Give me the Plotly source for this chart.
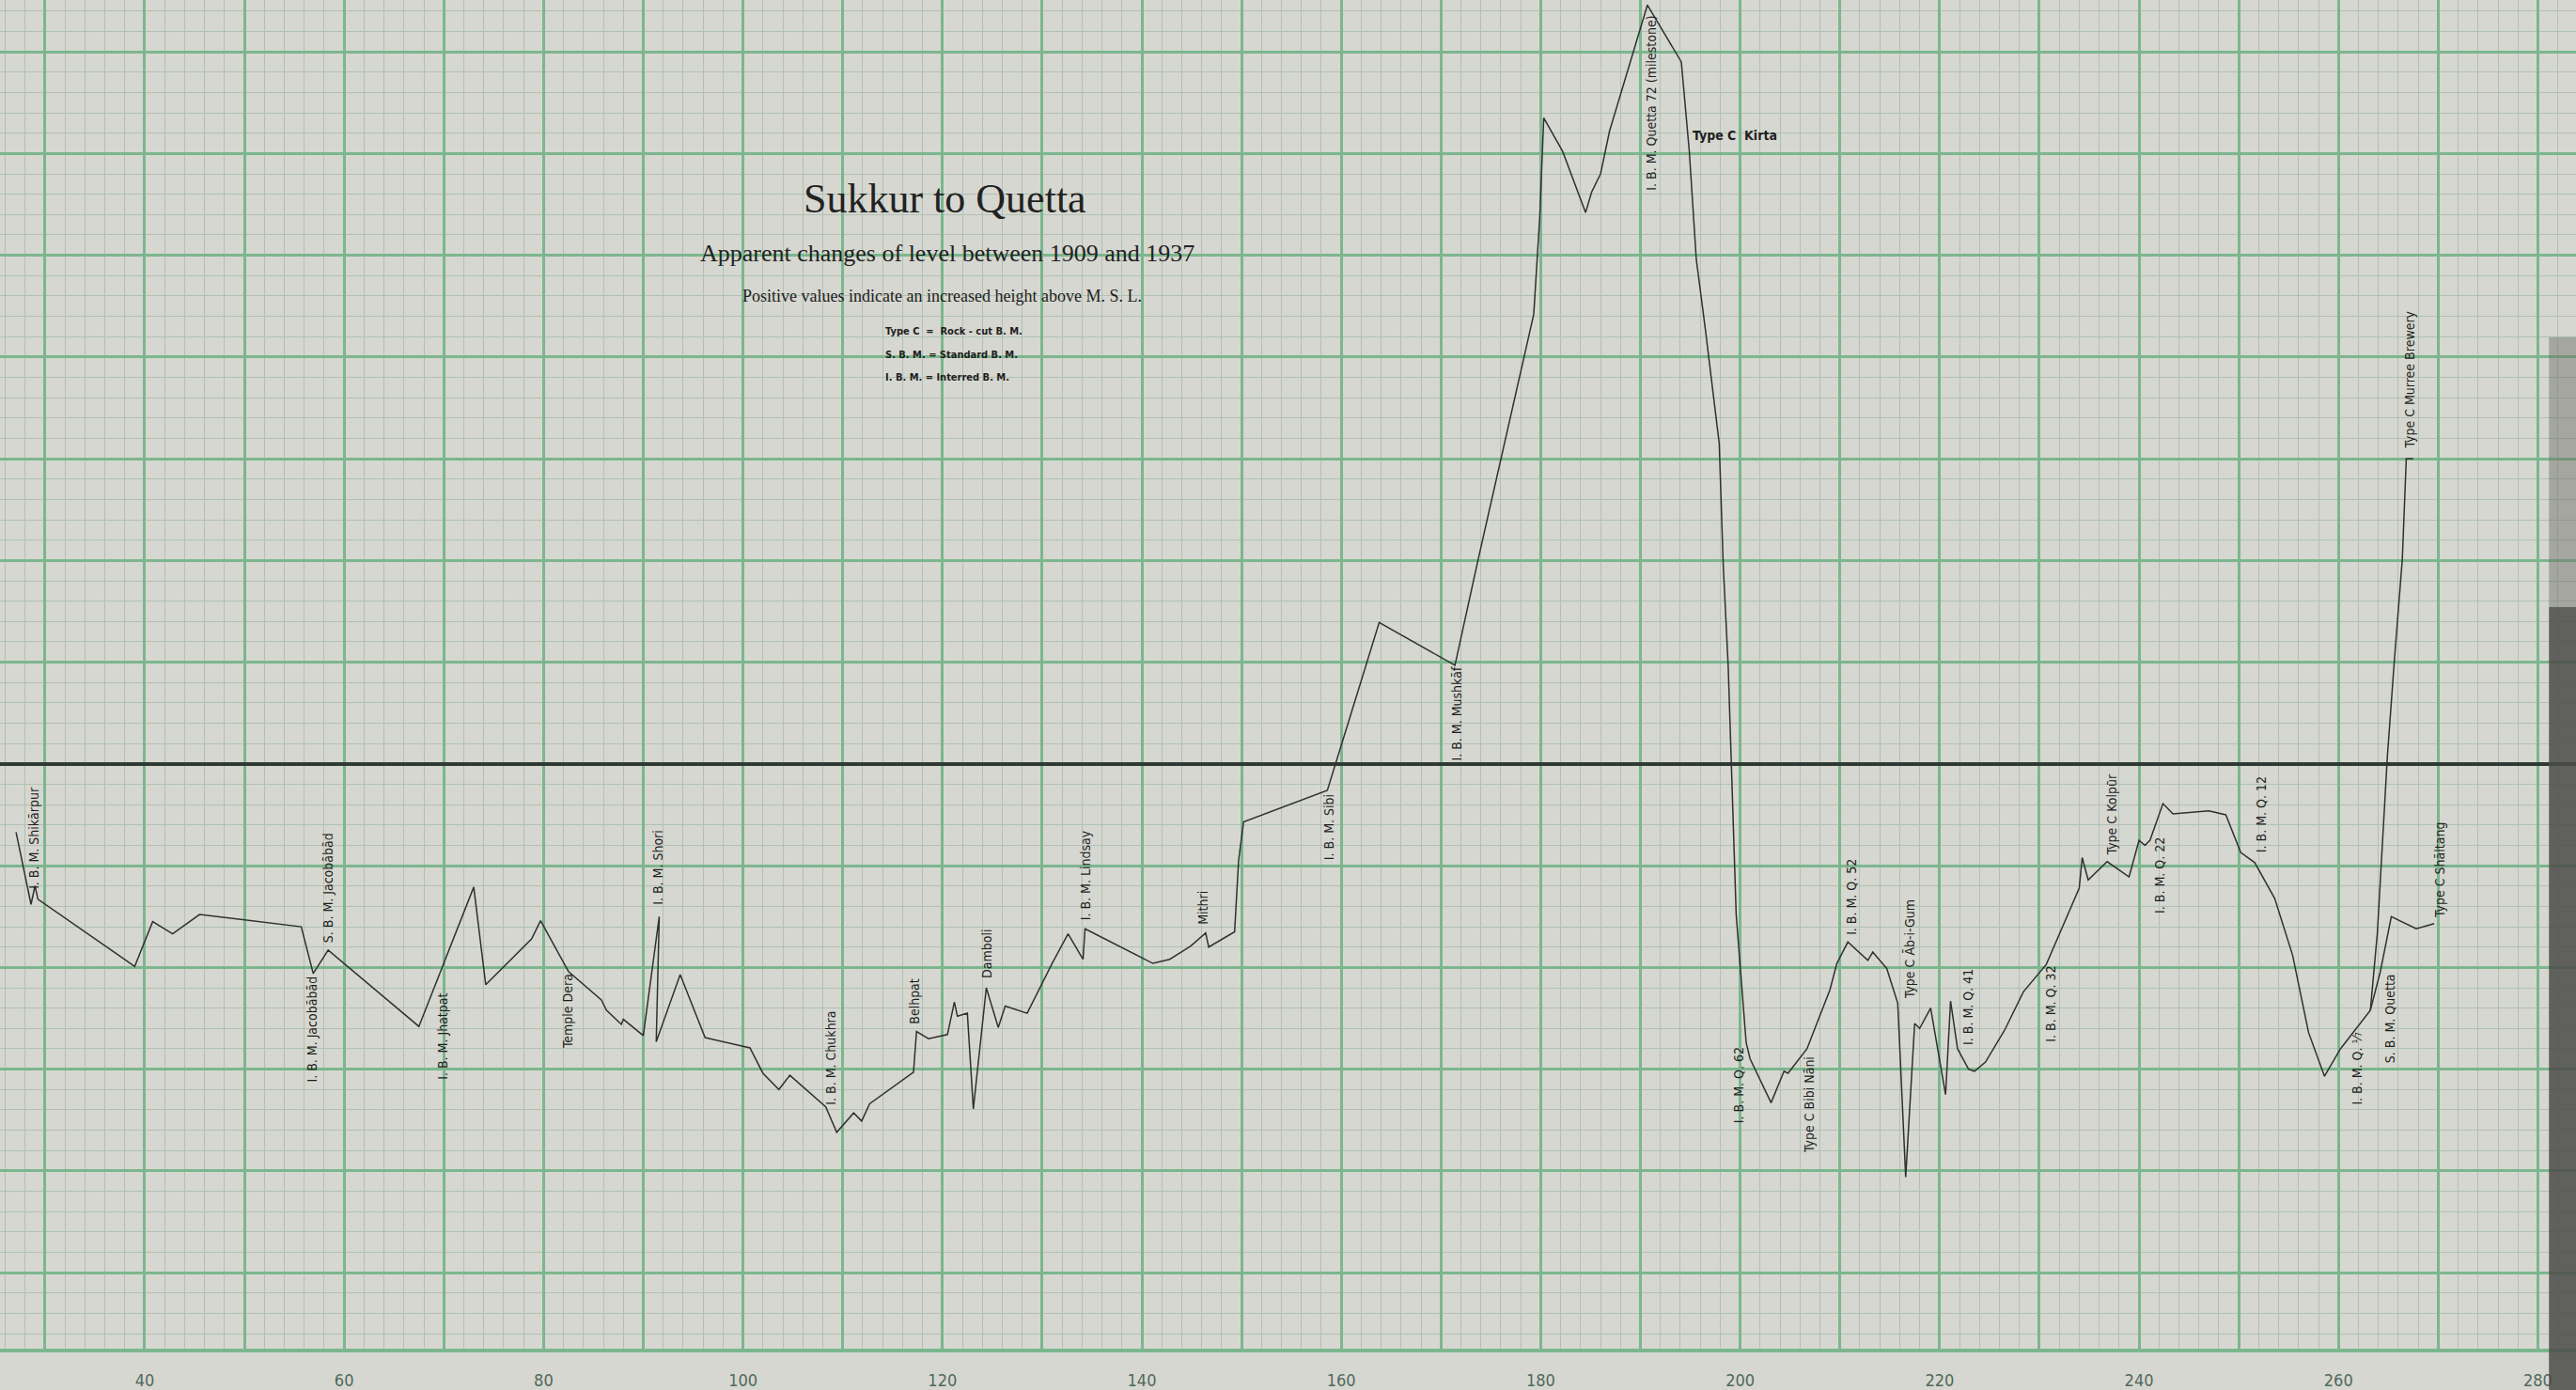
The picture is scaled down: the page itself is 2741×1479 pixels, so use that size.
import plotly.graph_objects as go

# ---- data ----
# distance along the line of levels (x) and apparent change of level (y)
main_x = [27.1, 28.6, 29.0, 29.3, 39.0, 40.8, 42.8, 45.5, 55.7, 56.9, 58.4, 67.5, 73.0, 74.2,
          78.8, 79.7, 82.5, 85.8, 86.3, 87.8, 88.0, 90.0, 91.6, 91.3, 93.7, 96.2, 100.7, 102.0,
          103.6, 104.7, 108.3, 109.4, 111.1, 111.9, 112.7, 117.1, 117.4, 118.6, 120.5, 121.2,
          121.5, 122.5, 123.1, 124.4, 125.6, 126.3, 128.5, 131.0, 132.6, 134.1, 134.3, 141.1,
          142.8, 144.9, 146.4, 146.7, 149.3, 149.7, 150.2, 158.6, 163.8, 171.4, 173.7, 179.3,
          179.9, 180.3, 182.2, 184.5, 185.1, 186.0, 186.9, 190.7, 194.1, 194.9, 195.6, 196.5,
          197.9, 198.3, 198.8, 199.1, 199.6, 200.6, 201.0, 203.1, 204.4, 204.8, 206.7, 209.0,
          209.7, 210.8, 212.8, 213.3, 214.7, 215.8, 216.6, 217.5, 218.0, 219.1, 220.6, 221.1,
          221.8, 222.9, 223.5, 224.6, 226.5, 228.4, 230.7, 234.0, 234.3, 234.9, 236.8, 239.0,
          240.0, 240.6, 241.1, 242.4, 243.4, 247.0, 248.7, 250.2, 251.6, 253.6, 255.4, 257.0,
          258.6, 260.2, 263.2, 263.9, 264.9, 265.6, 266.4, 266.8, 267.5]
main_y = [-6.7, -13.8, -12.0, -13.3, -19.9, -15.5, -16.7, -14.8, -16.0, -20.6, -18.3, -25.8, -12.1, -21.7,
          -17.2, -15.4, -20.4, -23.2, -24.2, -25.6, -25.1, -26.7, -15.0, -27.3, -20.7, -26.9, -27.9, -30.4,
          -32.0, -30.6, -33.7, -36.2, -34.3, -35.1, -33.4, -30.3, -26.3, -27.0, -26.6, -23.4,
          -24.8, -24.5, -33.9, -22.0, -25.9, -23.8, -24.5, -19.6, -16.7, -19.2, -16.2, -19.6,
          -19.2, -17.9, -16.6, -18.0, -16.5, -9.5, -5.7, -2.6, 13.9, 9.7, 20.0, 44.2,
          53.7, 63.5, 60.2, 54.2, 56.2, 58.0, 62.2, 74.6, 69.0, 60.2, 49.6, 42.8,
          31.5, 19.6, 9.6, -0.3, -14.8, -27.4, -29.0, -33.3, -30.2, -30.4, -28.0, -22.2,
          -19.6, -17.5, -19.3, -18.5, -20.1, -23.5, -40.6, -25.5, -26.0, -24.0, -32.5, -23.3,
          -28.0, -30.0, -30.2, -29.3, -26.2, -22.4, -19.7, -12.2, -9.2, -11.4, -9.6, -11.1,
          -7.5, -8.0, -7.5, -3.9, -4.9, -4.6, -5.0, -8.7, -9.7, -13.2, -18.8, -26.4,
          -30.7, -28.0, -24.2, -16.6, 0.7, 10.1, 20.1, 30.0, 30.0]

branch_x = [263.2, 264.2, 265.3, 267.8, 269.6]
branch_y = [-24.2, -20.4, -15.0, -16.2, -15.7]

# station labels: text, x, y (bottom of the upright text)
label_text = ["I. B. M. Shikārpur", "I. B. M. Jacobābād", "S. B. M. Jacobābād", "I. B. M. Jhatpat",
              "Temple Dera", "I. B. M. Shori", "I. B. M. Chukhra", "Belhpat", "Damboli",
              "I. B. M. Lindsay", "Mithri", "I. B. M. Sibi", "I. B. M. Mushkāf",
              "I. B. M. Quetta 72 (milestone)", "I. B. M. Q. 62", "Type C Bibi Nāni",
              "I. B. M. Q. 52", "Type C Āb-i-Gum", "I. B. M. Q. 41", "I. B. M. Q. 32",
              "I. B. M. Q. 22", "Type C Kolpūr", "I. B. M. Q. 12", "I. B. M. Q. ¹⁄₇",
              "S. B. M. Quetta", "Type C Shāltang", "Type C Murree Brewery"]
label_x = [28.9, 56.8, 58.4, 69.8, 82.4, 91.5, 108.8, 117.2, 124.5, 134.3, 146.1, 158.7, 171.6,
           191.1, 199.8, 206.9, 211.2, 217.0, 222.9, 231.1, 242.0, 237.3, 252.2, 261.9,
           265.1, 270.1, 267.1]
label_y = [-12.5, -31.5, -17.8, -31.2, -28.2, -14.0, -33.7, -25.8, -21.3, -15.6, -16.0, -9.6, 0.1,
           56.2, -35.5, -38.4, -17.0, -23.3, -27.8, -27.5, -14.9, -9.2, -8.9, -33.7,
           -29.6, -15.3, 30.8]

kirta_text = "Type C  Kirta"
kirta_x, kirta_y = 195.0, 61.8

tick_vals = list(range(30, 290, 10))
tick_text = [str(v) if v % 20 == 0 else "" for v in tick_vals]

# ---- styles ----
PAPER = "#d6d7d0"
MAJOR = "#7cb68e"
MINOR = "#b0c1b4"
INK = "#1e1e1e"
NARROW = "Liberation Sans Narrow, Arial Narrow, DejaVu Sans Condensed, Roboto Condensed, sans-serif"
SERIF = "Liberation Serif, Times New Roman, serif"

fig = go.Figure()
fig.add_trace(go.Scatter(x=main_x, y=main_y, mode="lines",
                         line=dict(color="#303030", width=1.5), hoverinfo="skip"))
fig.add_trace(go.Scatter(x=branch_x, y=branch_y, mode="lines",
                         line=dict(color="#303030", width=1.5), hoverinfo="skip"))

annotations = []
for t, x, y in zip(label_text, label_x, label_y):
    annotations.append(dict(x=x, y=y, xref="x", yref="y", text=t, showarrow=False,
                            textangle=-90, xanchor="center", yanchor="bottom",
                            font=dict(family=NARROW, size=14, color=INK)))
annotations.append(dict(x=kirta_x, y=kirta_y, xref="x", yref="y", text="<b>" + kirta_text + "</b>",
                        showarrow=False, xanchor="left", yanchor="middle",
                        font=dict(family=NARROW, size=14, color=INK)))

annotations += [
    dict(x=0.3667, y=0.8525, xref="paper", yref="paper", text="Sukkur to Quetta",
         showarrow=False, xanchor="center", yanchor="middle",
         font=dict(family=SERIF, size=44, color="#222222")),
    dict(x=0.3677, y=0.8121, xref="paper", yref="paper",
         text="Apparent changes of level between 1909 and 1937",
         showarrow=False, xanchor="center", yanchor="middle",
         font=dict(family=SERIF, size=26, color="#222222")),
    dict(x=0.3659, y=0.7808, xref="paper", yref="paper",
         text="Positive values indicate an increased height above M. S. L.",
         showarrow=False, xanchor="center", yanchor="middle",
         font=dict(family=SERIF, size=18, color="#1e1e1e")),
]
for txt, yy in [("Type C  =  Rock - cut B. M.", 0.7543),
                ("S. B. M. = Standard B. M.", 0.7370),
                ("I. B. M. = Interred B. M.", 0.7203)]:
    annotations.append(dict(x=0.3429, y=yy, xref="paper", yref="paper", text="<b>" + txt + "</b>",
                            showarrow=False, xanchor="left", yanchor="middle",
                            font=dict(family=NARROW, size=11, color=INK)))

fig.update_layout(
    width=2741, height=1479,
    margin=dict(l=0, r=0, t=0, b=42),
    paper_bgcolor=PAPER, plot_bgcolor=PAPER,
    showlegend=False,
    annotations=annotations,
    shapes=[
        dict(type="rect", xref="paper", yref="paper", x0=0.9895, x1=1.0, y0=-0.04, y1=0.55,
             fillcolor="#4b4b49", opacity=0.85, line=dict(width=0), layer="above"),
        dict(type="rect", xref="paper", yref="paper", x0=0.9895, x1=1.0, y0=0.55, y1=0.75,
             fillcolor="#6a6a66", opacity=0.45, line=dict(width=0), layer="above"),
    ],
    xaxis=dict(range=[25.49, 283.82], tickmode="array", tickvals=tick_vals, ticktext=tick_text,
               showgrid=True, gridcolor=MAJOR, gridwidth=3,
               minor=dict(dtick=2, tick0=0, showgrid=True, gridcolor=MINOR, gridwidth=1.3),
               zeroline=False, showline=True, linecolor=MAJOR, linewidth=4,
               ticks="outside", ticklen=14, tickcolor="rgba(0,0,0,0)",
               tickfont=dict(family=NARROW, size=18, color="#50695d")),
    yaxis=dict(range=[-57.47, 75.09], dtick=10, tick0=0, showticklabels=False,
               showgrid=True, gridcolor=MAJOR, gridwidth=3,
               minor=dict(dtick=2, tick0=0, showgrid=True, gridcolor=MINOR, gridwidth=1.3),
               zeroline=True, zerolinecolor="#2f3a35", zerolinewidth=4),
)

fig.write_html("out.html", config={"displayModeBar": False},
               post_script="document.body.style.margin='0px';")
